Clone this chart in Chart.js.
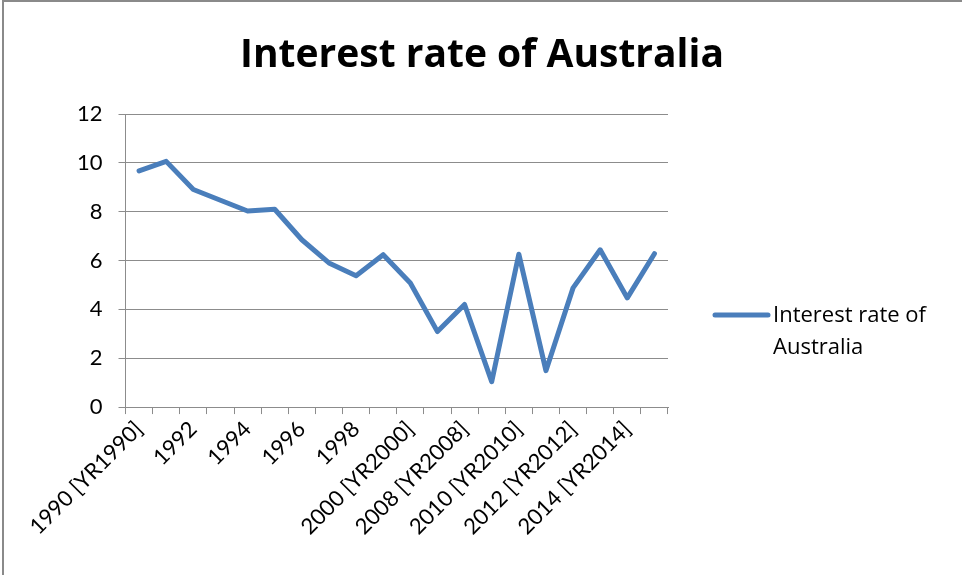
<!DOCTYPE html>
<html>
<head>
<meta charset="utf-8">
<script src="https://cdn.jsdelivr.net/npm/chart.js@4/dist/chart.umd.min.js"></script>
<style>
  html, body { margin: 0; padding: 0; background: #fff; }
  #wrap { width: 962px; height: 575px; }
</style>
</head>
<body>
<div id="wrap"><canvas id="chart" width="962" height="575"></canvas></div>
<script>
// data
const years = ["1990 [YR1990]", "1991", "1992", "1993", "1994", "1995", "1996", "1997", "1998", "1999",
  "2000 [YR2000]", "2005 [YR2005]", "2008 [YR2008]", "2009 [YR2009]", "2010 [YR2010]", "2011 [YR2011]",
  "2012 [YR2012]", "2013 [YR2013]", "2014 [YR2014]", "2015 [YR2015]"];
const interestRate = [9.67, 10.06, 8.91, 8.47, 8.03, 8.1, 6.85, 5.9, 5.38, 6.24,
  5.08, 3.09, 4.2, 1.04, 6.26, 1.49, 4.88, 6.44, 4.47, 6.28];
const seriesName = "Interest rate of Australia";
const yTicks = [0, 2, 4, 6, 8, 10, 12];

const FONT = "Lato, 'Open Sans', sans-serif";
const WIDE_FONT = "'Open Sans', Lato, sans-serif";
const gridGray = "#8c8c8c";
const lineBlue = "#4a7ebb";

// white background, frame on top and left, title centred on the whole picture
const framePlugin = {
  id: "frame",
  beforeDraw(chart) {
    const ctx = chart.ctx;
    ctx.save();
    ctx.fillStyle = "#fff";
    ctx.fillRect(0, 0, chart.width, chart.height);
    ctx.strokeStyle = "#8a8a8a";
    ctx.lineWidth = 2;
    ctx.beginPath();
    ctx.moveTo(3, chart.height);
    ctx.lineTo(3, 1);
    ctx.lineTo(chart.width, 1);
    ctx.stroke();
    ctx.fillStyle = "#000";
    ctx.font = "bold 39px " + WIDE_FONT;
    ctx.textAlign = "center";
    ctx.textBaseline = "alphabetic";
    ctx.fillText(seriesName, 482, 67);
    ctx.restore();
  }
};

// two-line legend on the right
const sideLegend = {
  id: "sideLegend",
  afterDraw(chart) {
    const ctx = chart.ctx;
    const ds = chart.data.datasets[0];
    const x0 = 715, y0 = 315;
    ctx.save();
    ctx.strokeStyle = ds.borderColor;
    ctx.lineWidth = 5;
    ctx.lineCap = "round";
    ctx.beginPath();
    ctx.moveTo(x0, y0);
    ctx.lineTo(x0 + 53, y0);
    ctx.stroke();
    ctx.fillStyle = "#000";
    ctx.font = "22px " + WIDE_FONT;
    ctx.textBaseline = "alphabetic";
    const words = ds.label.split(" ");
    ctx.fillText(words.slice(0, 3).join(" "), 773, 322);
    ctx.fillText(words.slice(3).join(" "), 773, 354);
    ctx.restore();
  }
};

new Chart(document.getElementById("chart"), {
  type: "line",
  data: {
    labels: years,
    datasets: [{
      label: seriesName,
      data: interestRate,
      borderColor: lineBlue,
      backgroundColor: lineBlue,
      borderWidth: 5,
      pointRadius: 0,
      tension: 0,
      borderJoinStyle: "round",
      borderCapStyle: "round"
    }]
  },
  options: {
    responsive: false,
    animation: false,
    layout: { padding: { left: 61, right: 294, top: 114, bottom: 33 } },
    plugins: {
      legend: { display: false },
      tooltip: { enabled: false },
      title: { display: false }
    },
    scales: {
      x: {
        offset: true,
        border: { color: gridGray, width: 1 },
        grid: { drawOnChartArea: false, drawTicks: true, tickLength: 7, color: gridGray, offset: true },
        ticks: {
          autoSkip: false,
          maxRotation: 45,
          minRotation: 45,
          color: "#000",
          padding: 2,
          font: { family: FONT, size: 22 },
          callback: (v, i) => (i % 2 === 0 ? years[i] : "")
        }
      },
      y: {
        min: 0,
        max: 12,
        afterBuildTicks: axis => { axis.ticks = yTicks.map(v => ({ value: v })); },
        border: { color: gridGray, width: 1 },
        grid: { color: gridGray, lineWidth: 1, drawTicks: true, tickLength: 7 },
        ticks: { color: "#000", padding: 16, font: { family: FONT, size: 22 } }
      }
    }
  },
  plugins: [framePlugin, sideLegend]
});
</script>
</body>
</html>
